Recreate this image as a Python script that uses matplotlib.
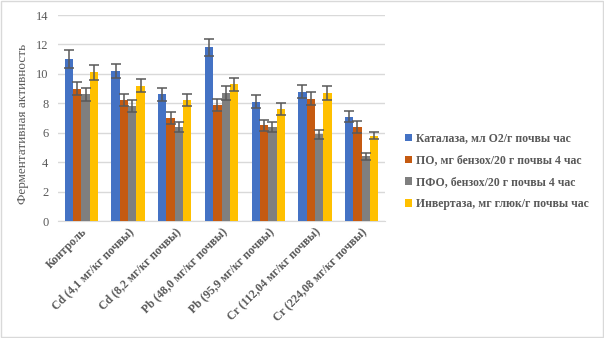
import numpy as np
import matplotlib.pyplot as plt
from matplotlib.patches import Rectangle

plt.rcParams['font.family'] = ['Liberation Serif', 'DejaVu Serif']

# Данные
categories = ['Контроль', 'Cd (4,1 мг/кг почвы)', 'Cd (8,2 мг/кг почвы)',
              'Pb (48,0 мг/кг почвы)', 'Pb (95,9 мг/кг почвы)',
              'Cr (112,04 мг/кг почвы)', 'Cr (224,08 мг/кг почвы)']
series_names = ['Каталаза, мл О2/г почвы час', 'ПО, мг бензох/20 г почвы 4 час',
                'ПФО, бензох/20 г почвы 4 час', 'Инвертаза, мг глюк/г почвы час']
catalase = [11.0, 10.2, 8.6, 11.8, 8.1, 8.8, 7.1]
po = [9.0, 8.2, 7.0, 7.9, 6.5, 8.3, 6.4]
pfo = [8.6, 7.8, 6.4, 8.7, 6.4, 5.9, 4.4]
invertase = [10.1, 9.2, 8.2, 9.3, 7.6, 8.7, 5.8]
catalase_err = [0.6, 0.5, 0.45, 0.6, 0.45, 0.45, 0.35]
po_err = [0.45, 0.4, 0.4, 0.4, 0.35, 0.45, 0.4]
pfo_err = [0.45, 0.4, 0.35, 0.45, 0.35, 0.3, 0.25]
invertase_err = [0.5, 0.45, 0.4, 0.45, 0.4, 0.45, 0.25]

colors = ['#4472C4', '#C55A11', '#7F7F7F', '#FFC000']
values = [catalase, po, pfo, invertase]
errors = [catalase_err, po_err, pfo_err, invertase_err]

fig = plt.figure(figsize=(6.04, 3.38), dpi=100)
ax = fig.add_axes([58 / 604, 1 - 221 / 338, 327 / 604, 206 / 338])

x = np.arange(len(categories))
w = 0.178
for i in range(4):
    ax.bar(x + (i - 1.5) * w, values[i], w, color=colors[i], label=series_names[i],
           yerr=errors[i], error_kw=dict(ecolor='#595959', elinewidth=1.1, capsize=3.5, capthick=1.1),
           zorder=3)

ax.set_ylim(0, 14)
ax.set_yticks(range(0, 15, 2))
ax.set_xlim(-0.5, len(categories) - 0.5)
ax.grid(axis='y', color='#D9D9D9', linewidth=1, zorder=0)
for s in ['top', 'right', 'left']:
    ax.spines[s].set_visible(False)
ax.spines['bottom'].set_color('#D9D9D9')
ax.tick_params(axis='both', length=0, colors='#595959', labelsize=9)
ax.tick_params(axis='y', pad=7)
ax.set_xticks(x)
ax.set_xticklabels(categories, rotation=45, ha='right', rotation_mode='anchor',
                   fontweight='bold', fontsize=8.5, color='#595959')
ax.set_ylabel('Ферментативная активность', fontsize=9.5, color='#595959')
ax.yaxis.set_label_coords(-0.09, 0.47)

leg = fig.legend(loc='upper left', bbox_to_anchor=(394 / 604, 1 - 122 / 338), frameon=False,
                 handlelength=0.6, handleheight=0.6, handletextpad=0.4, labelspacing=0.83,
                 prop={'weight': 'bold', 'size': 8.5, 'family': 'Liberation Serif'})
for t in leg.get_texts():
    t.set_color('#595959')

fig.patches.append(Rectangle((0.001, 0.002), 0.997, 0.995, transform=fig.transFigure,
                             fill=False, edgecolor='#D9D9D9', linewidth=1))

fig.savefig('out.png', dpi=100)
